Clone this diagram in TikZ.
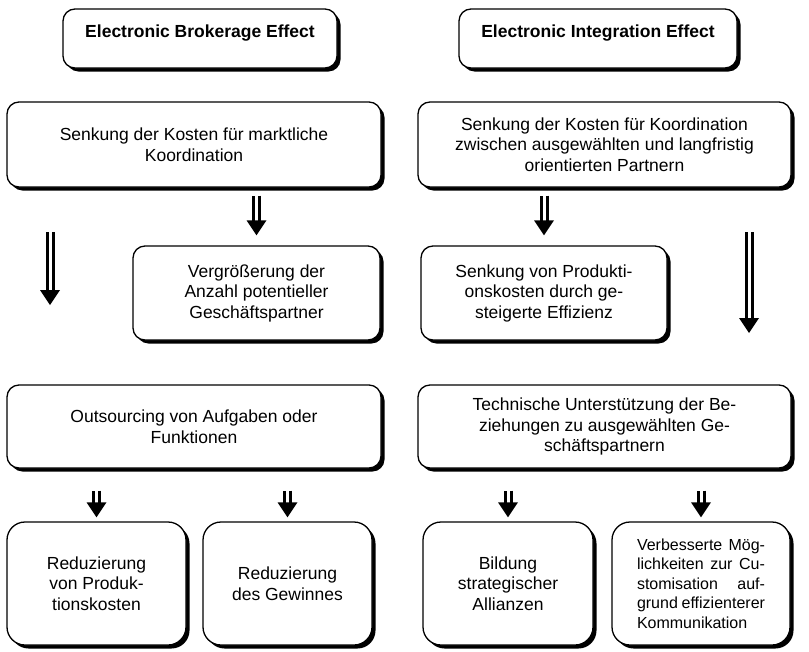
\documentclass[tikz,border=0pt]{standalone}
\usepackage{fontspec}
\setmainfont{Liberation Sans}
\usetikzlibrary{shadows,calc}

\tikzset{
  box/.style={draw=black, line width=1.3pt, fill=white, rounded corners=12pt,
    drop shadow={shadow xshift=3.5pt, shadow yshift=-3.5pt, fill=black, opacity=1},
    inner sep=0pt, align=center, font=\fontsize{17.5}{20.5}\selectfont},
  headbox/.style={box, font=\bfseries\fontsize{17.5}{20.5}\selectfont,
    text height=12.5pt, text depth=14.5pt},
  leafbox/.style={box, rounded corners=18pt},
  arrowshaft/.style={draw=black, double=white, double distance=3pt, line width=3pt},
}

% double-shafted arrow with a solid triangular head
\newcommand\dblarrow[2]{%
  \draw[arrowshaft] (#1) -- ([yshift=13pt]#2);
  \fill[black] ([yshift=15pt,xshift=-10pt]#2) -- (#2) -- ([yshift=15pt,xshift=10pt]#2) -- cycle;
}
% one justified line of fixed width
\newcommand\jline[1]{\makebox[128pt][s]{#1}}

\begin{document}
\begin{tikzpicture}[x=1pt, y=-1pt]
\useasboundingbox (0,0) rectangle (809,651);

% column headers
\node[headbox, minimum width=274pt, minimum height=59pt] (hl) at (200,38.5) {Electronic Brokerage Effect};
\node[headbox, minimum width=278pt, minimum height=59pt] (hr) at (598,38.5) {Electronic Integration Effect};

% first level
\node[box, minimum width=374pt, minimum height=85pt] (b1l) at (194,144.5)
  {Senkung der Kosten für marktliche\\Koordination};
\node[box, minimum width=373pt, minimum height=85pt] (b1r) at (604.5,144.5)
  {Senkung der Kosten für Koordination\\zwischen ausgewählten und langfristig\\orientierten Partnern};

% second level
\node[box, minimum width=247pt, minimum height=94pt] (b2l) at (256.5,293)
  {Vergrößerung der\\Anzahl potentieller\\Geschäftspartner};
\node[box, minimum width=246pt, minimum height=94pt] (b2r) at (544,293)
  {Senkung von Produkti-\\onskosten durch ge-\\steigerte Effizienz};

% third level
\node[box, minimum width=374pt, minimum height=83pt] (b3l) at (194,426.5)
  {Outsourcing von Aufgaben oder\\Funktionen};
\node[box, minimum width=373pt, minimum height=83pt] (b3r) at (604.5,426.5)
  {Technische Unterstützung der Be-\\ziehungen zu ausgewählten Ge-\\schäftspartnern};

% outcomes
\node[leafbox, minimum width=179pt, minimum height=123pt] (bl1) at (96.5,583.5)
  {Reduzierung\\von Produk-\\tionskosten};
\node[leafbox, minimum width=169pt, minimum height=123pt] (bl2) at (287.5,583.5)
  {Reduzierung\\des Gewinnes};
\node[leafbox, minimum width=170pt, minimum height=123pt] (br1) at (508,583.5)
  {Bildung\\strategischer\\Allianzen};
\node[leafbox, minimum width=178pt, minimum height=123pt, align=left,
      font=\fontsize{16}{19.5}\selectfont] (br2) at (701,583.5)
  {\jline{Verbesserte Mög-}\\
   \jline{lichkeiten zur Cu-}\\
   \jline{stomisation auf-}\\
   \jline{grund effizienterer}\\
   \makebox[128pt][l]{Kommunikation}};

% arrow end points
\coordinate (a1s) at ($(b1l.south -| b2l.north)+(0,8)$);
\coordinate (a1e) at ($(b2l.north)+(0,-10)$);
\coordinate (a2s) at ($(b1r.south -| b2r.north)+(0,8)$);
\coordinate (a2e) at ($(b2r.north)+(0,-10)$);
\coordinate (lls) at (50,232);
\coordinate (lle) at (50,305);
\coordinate (lrs) at (749,232);
\coordinate (lre) at (749,333);
\coordinate (c1s) at ($(b3l.south -| bl1.north)+(0,22)$);
\coordinate (c1e) at ($(bl1.north)+(0,-4)$);
\coordinate (c2s) at ($(b3l.south -| bl2.north)+(0,22)$);
\coordinate (c2e) at ($(bl2.north)+(0,-4)$);
\coordinate (c3s) at ($(b3r.south -| br1.north)+(0,22)$);
\coordinate (c3e) at ($(br1.north)+(0,-4)$);
\coordinate (c4s) at ($(b3r.south -| br2.north)+(0,22)$);
\coordinate (c4e) at ($(br2.north)+(0,-4)$);

% arrows
\dblarrow{a1s}{a1e}
\dblarrow{a2s}{a2e}
\dblarrow{lls}{lle}
\dblarrow{lrs}{lre}
\dblarrow{c1s}{c1e}
\dblarrow{c2s}{c2e}
\dblarrow{c3s}{c3e}
\dblarrow{c4s}{c4e}
\end{tikzpicture}
\end{document}
